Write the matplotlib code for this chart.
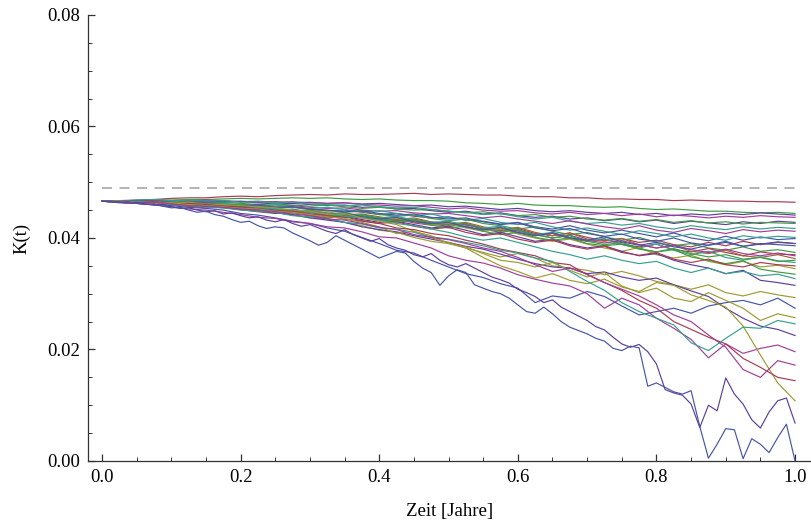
import numpy as np
import matplotlib
matplotlib.use("Agg")
import matplotlib.pyplot as plt
from matplotlib.ticker import MultipleLocator, FormatStrFormatter

# simulated K(t) paths, values in units of 1e-3
# (the two lowest paths are sampled every 0.0125, the rest every 0.025)
path_low_a = [46.6, 46.5, 46.4, 46.5, 46.2, 46.0, 46.1, 45.7, 45.4, 45.5,
              45.0, 44.6, 44.8, 44.2, 43.9, 43.3, 42.8, 43.0, 42.2, 41.7,
              42.0, 41.8, 40.9, 40.2, 39.5, 38.7, 39.2, 40.4, 39.6, 38.8,
              38.0, 37.2, 36.4, 37.0, 37.6, 37.3, 35.8, 34.6, 33.8, 31.5,
              33.2, 34.3, 33.8, 31.6, 31.0, 30.4, 30.0, 29.2, 28.0, 26.8,
              26.5, 27.6, 26.4, 25.0, 24.0, 23.4, 22.8, 22.0, 21.5, 20.2,
              19.8, 20.6, 20.3, 13.4, 14.0, 13.2, 12.4, 12.0, 12.6, 6.2,
              0.5, 3.0, 5.8, 5.6, 0.4, 4.0, 3.0, 1.5, 4.2, 6.6,
              0.0]
path_low_b = [46.6, 46.6, 46.4, 46.3, 46.4, 46.1, 45.9, 46.0, 45.6, 45.3,
              45.4, 45.0, 44.7, 44.9, 44.3, 44.5, 44.0, 43.6, 43.8, 43.2,
              42.9, 43.3, 42.6, 42.1, 42.4, 41.8, 41.2, 40.8, 41.5, 40.6,
              40.0, 39.4, 39.9, 38.8, 38.2, 37.8, 37.0, 36.6, 37.2, 36.0,
              35.2, 34.8, 35.4, 34.6, 33.8, 33.0, 32.5, 31.9, 30.8, 30.2,
              29.5, 28.4, 28.9, 27.6, 26.8, 26.0, 25.2, 24.1, 23.5, 22.2,
              21.0, 20.4, 20.9, 19.6, 17.4, 12.8, 12.2, 11.8, 10.2, 6.0,
              10.0, 9.0, 14.9, 12.0, 10.2, 7.4, 5.9, 8.8, 10.8, 11.3,
              6.8]

paths = [
    # top bundle
    [46.6, 46.7, 46.8, 46.9, 47.1, 47.2, 47.2, 47.4, 47.5, 47.4,
     47.6, 47.7, 47.8, 47.7, 47.9, 47.8, 47.8, 47.9, 48.0, 47.8,
     47.9, 47.8, 47.7, 47.7, 47.5, 47.4, 47.4, 47.2, 47.2, 47.0,
     47.0, 46.9, 46.9, 46.7, 46.8, 46.7, 46.6, 46.6, 46.5, 46.5, 46.4],
    [46.6, 46.7, 46.7, 46.8, 46.8, 46.9, 46.9, 47.0, 47.1, 47.0,
     47.1, 47.2, 47.1, 47.2, 47.0, 46.9, 47.0, 46.8, 46.7, 46.7,
     46.6, 46.3, 46.2, 46.0, 46.2, 45.9, 45.8, 45.8, 45.6, 45.5,
     45.6, 45.3, 45.1, 45.2, 45.0, 44.8, 44.8, 44.6, 44.5, 44.6, 44.4],
    [46.6, 46.6, 46.7, 46.6, 46.5, 46.7, 46.6, 46.5, 46.6, 46.4,
     46.5, 46.3, 46.4, 46.2, 46.3, 46.1, 46.2, 46.0, 45.8, 45.9,
     45.6, 45.7, 45.4, 45.1, 45.3, 44.9, 44.7, 44.9, 44.6, 44.4,
     44.6, 44.2, 44.4, 44.0, 44.3, 44.1, 44.4, 44.2, 44.5, 44.3, 44.1],
    [46.6, 46.7, 46.6, 46.8, 46.7, 46.6, 46.8, 46.7, 46.5, 46.6,
     46.4, 46.5, 46.3, 46.2, 46.3, 46.0, 45.9, 45.7, 45.8, 45.5,
     45.2, 45.4, 45.0, 44.8, 44.9, 44.5, 44.3, 44.6, 44.2, 44.4,
     44.0, 44.3, 43.8, 44.1, 43.9, 43.6, 43.9, 43.7, 44.0, 43.8, 43.7],
    [46.6, 46.7, 46.7, 46.6, 46.7, 46.5, 46.6, 46.4, 46.5, 46.3,
     46.1, 46.2, 46.0, 45.8, 45.9, 45.5, 45.6, 45.2, 45.3, 44.9,
     44.6, 44.8, 44.3, 44.5, 44.0, 43.7, 43.9, 43.4, 43.6, 43.1,
     43.4, 42.9, 43.2, 42.6, 43.0, 42.7, 42.4, 42.9, 42.6, 43.0, 42.8],
    [46.6, 46.6, 46.5, 46.6, 46.4, 46.5, 46.3, 46.4, 46.2, 46.0,
     46.1, 45.9, 45.7, 45.9, 45.6, 45.3, 45.5, 45.2, 45.0, 45.1,
     44.8, 44.5, 44.7, 44.3, 44.0, 44.2, 43.7, 43.9, 43.4, 43.2,
     43.5, 43.0, 43.3, 42.8, 43.1, 42.7, 42.9, 42.5, 42.8, 42.7, 42.6],
    [46.6, 46.6, 46.8, 46.9, 46.7, 46.8, 46.6, 46.7, 46.4, 46.5,
     46.3, 46.4, 46.1, 46.0, 45.8, 45.9, 45.6, 45.4, 45.5, 45.1,
     44.8, 44.6, 44.2, 44.4, 43.8, 43.4, 43.7, 43.0, 42.6, 42.8,
     42.3, 42.6, 42.0, 41.6, 42.2, 41.8, 41.5, 42.0, 41.6, 41.9, 41.7],
    [46.6, 46.5, 46.5, 46.3, 46.4, 46.2, 46.3, 46.0, 45.9, 46.0,
     45.7, 45.8, 45.5, 45.3, 45.4, 45.0, 44.8, 44.9, 44.5, 44.3,
     44.4, 44.0, 43.6, 43.9, 43.4, 43.0, 42.6, 43.1, 42.5, 42.0,
     41.6, 42.2, 41.4, 41.0, 41.7, 41.3, 40.8, 41.5, 41.1, 41.4, 41.2],
    [46.6, 46.6, 46.4, 46.5, 46.2, 46.3, 46.1, 45.8, 45.9, 45.6,
     45.4, 45.5, 45.1, 44.9, 45.0, 44.6, 44.2, 44.4, 43.9, 43.6,
     43.8, 43.2, 43.0, 42.5, 42.8, 42.0, 41.6, 42.2, 41.4, 40.9,
     41.4, 40.8, 40.2, 40.9, 40.0, 39.5, 40.3, 39.6, 40.2, 39.7, 39.9],
    [46.6, 46.5, 46.6, 46.4, 46.5, 46.3, 46.1, 46.2, 46.0, 45.8,
     45.9, 45.6, 45.3, 45.5, 45.1, 44.7, 44.9, 44.4, 44.0, 44.3,
     43.6, 43.2, 43.5, 42.8, 42.4, 42.8, 42.0, 41.4, 41.8, 41.2,
     40.6, 41.3, 40.8, 40.2, 40.7, 40.0, 39.6, 40.4, 40.0, 40.3, 40.1],
    [46.6, 46.4, 46.2, 46.3, 46.0, 45.7, 45.8, 45.5, 45.2, 45.3,
     44.8, 44.6, 44.7, 44.2, 43.8, 44.0, 43.5, 43.1, 43.3, 42.8,
     42.4, 42.6, 41.8, 41.3, 41.7, 40.8, 40.4, 40.9, 40.1, 39.5,
     39.9, 39.2, 39.6, 38.8, 38.4, 39.2, 38.6, 39.4, 38.8, 39.2, 39.0],
    [46.6, 46.6, 46.5, 46.5, 46.3, 46.4, 46.1, 45.9, 46.0, 45.7,
     45.5, 45.6, 45.2, 44.9, 44.6, 44.8, 44.2, 43.9, 44.1, 43.5,
     43.1, 43.4, 42.6, 42.2, 41.6, 42.0, 41.2, 40.6, 41.0, 40.2,
     39.6, 40.1, 39.2, 38.6, 39.0, 38.2, 37.8, 38.4, 37.6, 37.9, 37.4],
    [46.6, 46.5, 46.3, 46.1, 46.2, 45.9, 45.6, 45.7, 45.3, 45.0,
     44.7, 44.9, 44.3, 43.9, 44.1, 43.6, 43.2, 43.4, 42.7, 42.3,
     42.6, 41.9, 41.4, 41.8, 40.9, 40.4, 40.8, 39.9, 39.4, 39.8,
     38.9, 38.4, 38.9, 37.9, 37.5, 38.1, 37.4, 36.8, 37.5, 37.1, 37.0],
    [46.6, 46.6, 46.4, 46.4, 46.1, 46.2, 45.9, 45.8, 45.5, 45.6,
     45.2, 44.9, 45.0, 44.5, 44.2, 44.3, 43.8, 43.3, 43.6, 42.9,
     42.5, 42.8, 42.0, 41.5, 41.9, 41.0, 40.4, 40.9, 39.8, 39.4,
     39.9, 38.8, 38.2, 38.7, 37.6, 37.2, 37.8, 36.8, 36.5, 37.0, 36.3],
    [46.6, 46.5, 46.6, 46.3, 46.2, 46.3, 45.9, 45.7, 45.8, 45.4,
     45.0, 45.2, 44.6, 44.3, 44.5, 43.9, 43.6, 43.9, 43.2, 42.8,
     43.0, 42.3, 41.8, 42.1, 41.2, 40.6, 41.0, 40.1, 39.5, 39.9,
     38.8, 38.2, 38.9, 37.8, 37.0, 37.6, 36.5, 36.0, 36.6, 35.9, 35.6],
    [46.6, 46.4, 46.5, 46.2, 46.0, 46.1, 45.7, 45.4, 45.5, 45.1,
     44.8, 44.5, 44.6, 44.0, 43.7, 43.9, 43.3, 42.9, 43.2, 42.5,
     42.1, 42.4, 41.6, 41.0, 41.4, 40.6, 40.0, 40.5, 39.6, 39.1,
     39.5, 38.8, 38.2, 38.7, 37.9, 37.4, 38.0, 37.2, 36.8, 37.3, 36.8],
    [46.6, 46.7, 46.5, 46.6, 46.4, 46.2, 46.3, 46.0, 45.8, 45.9,
     45.5, 45.6, 45.2, 45.0, 44.7, 44.9, 44.4, 44.1, 44.3, 43.7,
     43.4, 43.6, 42.9, 42.4, 42.7, 41.8, 41.3, 41.7, 40.8, 40.3,
     40.7, 39.8, 39.4, 40.0, 39.1, 38.7, 39.4, 38.5, 39.0, 38.8, 38.6],
    [46.6, 46.5, 46.4, 46.2, 46.3, 46.0, 45.8, 45.9, 45.5, 45.2,
     45.3, 44.9, 44.5, 44.7, 44.1, 43.8, 43.4, 43.6, 42.9, 42.4,
     42.6, 41.8, 41.2, 41.6, 40.7, 40.0, 39.4, 39.8, 38.9, 38.2,
     37.6, 38.3, 37.0, 36.4, 36.9, 35.8, 35.2, 35.8, 34.8, 35.1, 34.5],
    [46.6, 46.6, 46.4, 46.3, 46.4, 46.1, 46.0, 45.6, 45.7, 45.4,
     45.1, 44.8, 44.9, 44.3, 44.0, 44.2, 43.6, 43.1, 43.4, 42.7,
     42.3, 42.6, 41.7, 41.2, 41.5, 40.6, 40.0, 40.4, 39.4, 38.8,
     39.2, 38.1, 37.5, 37.9, 36.6, 36.0, 35.4, 35.9, 34.4, 33.9, 33.5],
    [46.6, 46.5, 46.3, 46.3, 46.0, 45.9, 45.6, 45.7, 45.3, 45.0,
     44.6, 44.8, 44.2, 43.8, 43.9, 43.3, 42.8, 43.0, 42.4, 41.8,
     42.1, 41.4, 40.6, 41.0, 40.2, 39.4, 39.8, 38.8, 38.2, 38.6,
     37.6, 36.8, 37.2, 36.0, 35.2, 34.6, 33.6, 34.2, 32.4, 32.0, 31.5],
    [46.6, 46.4, 46.5, 46.3, 46.2, 46.0, 45.9, 45.6, 45.4, 45.5,
     45.1, 44.6, 44.8, 44.2, 43.8, 44.0, 43.3, 42.9, 43.1, 42.3,
     41.8, 42.1, 41.2, 40.6, 41.0, 40.1, 39.6, 40.0, 39.0, 38.6,
     38.9, 38.0, 37.5, 38.1, 37.2, 36.6, 37.0, 36.2, 36.5, 35.8, 36.0],
    [46.6, 46.4, 46.2, 46.0, 46.1, 45.7, 45.4, 45.5, 45.1, 44.7,
     44.4, 44.6, 44.0, 43.6, 43.8, 43.1, 42.6, 42.9, 42.1, 41.6,
     41.9, 41.0, 40.4, 40.8, 39.8, 39.2, 39.6, 38.6, 38.0, 38.5,
     37.4, 36.9, 37.4, 36.2, 35.6, 36.2, 35.2, 34.8, 35.6, 35.2, 35.0],
    [46.6, 46.5, 46.6, 46.3, 46.1, 46.2, 45.8, 45.6, 45.7, 45.3,
     45.0, 45.1, 44.6, 44.3, 44.5, 43.8, 43.4, 43.7, 42.9, 42.6,
     42.8, 42.0, 41.5, 41.9, 41.0, 40.4, 40.9, 40.0, 39.6, 40.2,
     39.3, 38.7, 39.2, 38.4, 38.0, 38.7, 39.2, 38.5, 38.9, 39.3, 39.0],
    [46.6, 46.5, 46.6, 46.4, 46.2, 46.3, 46.0, 45.9, 45.6, 45.5,
     45.2, 45.0, 44.6, 44.4, 43.9, 43.6, 43.2, 42.6, 42.2, 41.6,
     41.0, 40.2, 39.6, 40.0, 39.2, 38.4, 37.6, 37.0, 36.2, 36.8,
     36.0, 35.4, 35.8, 34.6, 33.8, 34.6, 33.6, 34.0, 33.2, 33.5, 32.7],
    [46.6, 46.4, 46.3, 46.3, 46.0, 45.8, 45.7, 45.4, 45.1, 44.8,
     44.6, 44.1, 43.6, 43.4, 42.8, 42.2, 41.4, 41.0, 40.1, 39.4,
     39.0, 38.2, 37.4, 36.6, 37.2, 36.4, 35.0, 34.6, 34.2, 33.4,
     34.0, 33.2, 32.2, 31.6, 30.8, 31.6, 30.2, 29.6, 30.4, 29.8, 29.3],
    # lower, steeper paths
    [46.6, 46.4, 46.3, 46.0, 45.8, 45.5, 45.3, 45.0, 44.4, 44.1,
     43.6, 43.0, 42.6, 41.8, 41.2, 40.1, 39.0, 37.8, 37.3, 36.0,
     34.8, 33.6, 32.9, 31.8, 31.0, 28.4, 29.6, 29.2, 30.4, 29.5,
     27.8, 26.2, 26.8, 27.4, 26.5, 27.8, 28.4, 28.8, 28.0, 29.2, 27.4],
    [46.6, 46.5, 46.6, 46.4, 46.1, 46.0, 45.6, 45.5, 45.1, 44.8,
     44.5, 44.2, 43.6, 43.2, 42.8, 42.0, 41.5, 41.1, 40.4, 39.8,
     39.2, 38.5, 38.0, 37.1, 36.2, 35.4, 34.8, 34.6, 33.6, 33.9,
     33.0, 32.4, 32.8, 31.6, 30.5, 29.5, 27.4, 25.6, 24.2, 23.6, 22.5],
    [46.6, 46.3, 46.2, 45.9, 45.6, 45.2, 45.0, 44.6, 44.2, 43.7,
     43.5, 42.9, 42.6, 42.0, 41.8, 41.1, 40.2, 40.0, 39.1, 38.2,
     36.8, 36.0, 35.5, 34.6, 33.4, 32.6, 31.9, 31.4, 30.0, 27.4,
     29.2, 28.0, 25.6, 23.8, 21.8, 18.5, 21.0, 19.3, 20.2, 20.8, 19.6],
    [46.6, 46.6, 46.5, 46.5, 46.3, 46.4, 46.1, 46.0, 45.8, 45.6,
     45.4, 45.0, 44.8, 44.2, 44.4, 43.6, 43.0, 42.4, 41.2, 40.0,
     39.2, 38.2, 36.5, 35.0, 34.0, 32.8, 33.6, 32.4, 31.8, 32.6,
     31.2, 30.4, 32.0, 31.5, 29.8, 28.8, 27.6, 24.2, 19.0, 14.0, 10.8],
    [46.6, 46.5, 46.4, 46.5, 46.2, 46.2, 46.0, 45.7, 45.6, 45.2,
     44.9, 44.8, 44.3, 44.0, 43.4, 43.0, 42.6, 41.8, 41.5, 40.8,
     40.4, 39.6, 38.9, 38.0, 37.4, 36.8, 35.6, 35.2, 33.4, 32.0,
     30.6, 28.8, 27.4, 25.0, 23.6, 22.2, 21.0, 18.4, 16.8, 15.0, 14.4],
    [46.6, 46.4, 46.5, 46.2, 46.0, 45.9, 45.5, 45.4, 45.0, 44.8,
     44.6, 44.0, 43.8, 43.5, 42.8, 42.5, 41.8, 41.6, 41.0, 40.2,
     39.8, 39.2, 38.6, 37.8, 37.3, 36.4, 35.8, 34.0, 32.2, 30.6,
     28.4, 26.8, 25.6, 24.4, 21.2, 19.8, 22.0, 24.0, 23.8, 25.2, 24.6],
    [46.6, 46.6, 46.4, 46.2, 46.3, 46.0, 45.8, 45.6, 45.3, 45.2,
     44.8, 44.6, 44.2, 43.8, 43.5, 42.8, 42.0, 40.8, 41.2, 40.4,
     39.0, 38.4, 37.2, 36.0, 35.6, 34.8, 35.6, 34.2, 33.0, 33.8,
     31.4, 30.2, 31.0, 29.2, 28.6, 30.2, 28.8, 27.4, 25.2, 26.4, 25.7],
    [46.6, 46.5, 46.3, 46.4, 46.1, 45.8, 45.7, 45.5, 45.2, 45.0,
     44.7, 44.3, 44.0, 43.4, 43.2, 42.6, 41.9, 41.5, 40.6, 40.1,
     39.7, 39.0, 38.2, 37.6, 36.5, 35.2, 34.0, 34.6, 33.5, 32.0,
     30.8, 29.6, 28.0, 26.2, 25.0, 22.6, 20.4, 16.4, 15.0, 18.0, 17.2],
    path_low_b,
    path_low_a,
]

# index into the palette for each path above
path_colors = [3, 5, 1, 2, 1, 5, 6, 2, 0, 6, 3, 5, 3, 7, 6, 2, 0, 4, 5, 1,
               5, 3, 0, 6, 4, 0, 1, 2, 4, 3, 6, 4, 2, 1, 0]

palette = ["#4656a6", "#5c3f9f", "#a03f97", "#a63c52",
           "#9f9a34", "#409b43", "#36a090", "#a6623c"]

cap_level = 49.0      # dashed reference line
t_ticks = [0.0, 0.2, 0.4, 0.6, 0.8, 1.0]

plt.rcParams["font.family"] = ["Liberation Serif", "DejaVu Serif"]

fig = plt.figure(figsize=(8.11, 5.26), dpi=100)
ax = fig.add_axes([0.1085, 0.1236, 0.8915, 0.848])

for p, ci in zip(paths, path_colors):
    t = np.linspace(0, 1, len(p))
    ax.plot(t, np.array(p) * 1e-3, color=palette[ci], lw=0.85)

ax.plot([0, 1], [cap_level * 1e-3] * 2, color="#a8a8a8", lw=1.2,
        dashes=(6, 4.5))

ax.set_xlim(-0.0202, 1.023)
ax.set_ylim(0, 0.08)

for s in ["top", "right"]:
    ax.spines[s].set_visible(False)
for s in ["left", "bottom"]:
    ax.spines[s].set_linewidth(0.9)
    ax.spines[s].set_color("#333333")

ax.set_xticks(t_ticks)
ax.xaxis.set_minor_locator(MultipleLocator(0.05))
ax.yaxis.set_major_locator(MultipleLocator(0.02))
ax.yaxis.set_minor_locator(MultipleLocator(0.005))
ax.xaxis.set_major_formatter(FormatStrFormatter("%.1f"))
ax.yaxis.set_major_formatter(FormatStrFormatter("%.2f"))
ax.tick_params(which="both", direction="in", colors="#333333", labelcolor="black",
               labelsize=13.5)
ax.tick_params(which="major", length=5, width=0.9, pad=6)
ax.tick_params(which="minor", length=3, width=0.7)

ax.set_xlabel("Zeit [Jahre]", fontsize=13.5, labelpad=12)
ax.set_ylabel("K(t)", fontsize=13.5, labelpad=12)

fig.savefig("out.png", dpi=100)
